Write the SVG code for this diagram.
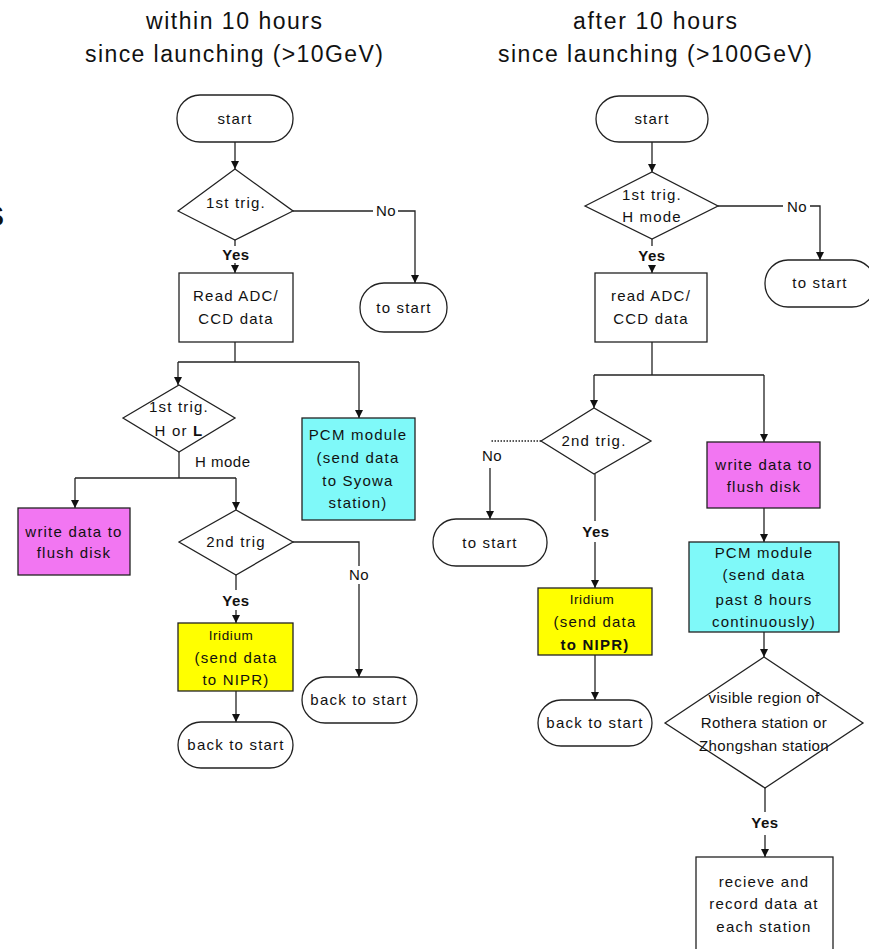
<svg xmlns="http://www.w3.org/2000/svg" width="869" height="949" viewBox="0 0 869 949">
  <style>
    text { font-family: "Liberation Sans", Arial, sans-serif; fill: #111; text-anchor: middle; }
    .title { font-size: 23px; }
    .t { font-size: 15px; letter-spacing: 1.2px; }
    .lbl { font-size: 15px; letter-spacing: 0.5px; }
    .small { font-size: 13.5px; letter-spacing: 0.6px; }
    .dtxt { font-size: 15px; letter-spacing: 0.4px; }
    .shape { stroke: #222; stroke-width: 1.3; fill: #fff; }
    .pink { fill: #f276f2; }
    .cyan { fill: #7ff9f9; }
    .yellow { fill: #ffff00; }
    .conn path { fill: none; stroke: #222; stroke-width: 1.3; }
    .conn .dot { stroke-dasharray: 1.5 1.5; }
  </style>
  <defs>
    <marker id="arrow" viewBox="0 0 8 8" refX="8" refY="4" markerWidth="8" markerHeight="8" markerUnits="userSpaceOnUse" orient="auto">
      <path d="M0,0 L8,4 L0,8 z" fill="#111"/>
    </marker>
  </defs>

  <rect width="869" height="949" fill="#fff"/>

  <!-- edge fragment -->
  <text x="-16" y="226" style="font-size:30px;font-weight:bold;text-anchor:start">S</text>

  <!-- column headings -->
  <g id="title-left">
    <text class="title" x="234" y="29" textLength="176" lengthAdjust="spacing">within 10 hours</text>
    <text class="title" x="234" y="62" textLength="298" lengthAdjust="spacing">since launching (&gt;10GeV)</text>
  </g>
  <g id="title-right">
    <text class="title" x="655" y="29" textLength="164" lengthAdjust="spacing">after 10 hours</text>
    <text class="title" x="655" y="62" textLength="314" lengthAdjust="spacing">since launching (&gt;100GeV)</text>
  </g>

  <!-- connectors -->
  <g id="connectors" class="conn">
    <!-- left chart -->
    <path d="M235,142 V169" marker-end="url(#arrow)"/>
    <path d="M293,211 H373"/>
    <path d="M398,211 H415 V283" marker-end="url(#arrow)"/>
    <path d="M235,240 V246"/>
    <path d="M235,263 V273" marker-end="url(#arrow)"/>
    <path d="M235,342 V362"/>
    <path d="M178,362 H359"/>
    <path d="M178,362 V385" marker-end="url(#arrow)"/>
    <path d="M359,362 V418" marker-end="url(#arrow)"/>
    <path d="M179,452 V478"/>
    <path d="M75,478 H236"/>
    <path d="M75,478 V508" marker-end="url(#arrow)"/>
    <path d="M236,478 V510" marker-end="url(#arrow)"/>
    <path d="M293,542 H359 V566"/>
    <path d="M359,584 V677" marker-end="url(#arrow)"/>
    <path d="M236,575 V590"/>
    <path d="M236,610 V623" marker-end="url(#arrow)"/>
    <path d="M236,691 V722" marker-end="url(#arrow)"/>

    <!-- right chart -->
    <path d="M652,142 V172" marker-end="url(#arrow)"/>
    <path d="M718,206 H783"/>
    <path d="M810,206 H820 V260" marker-end="url(#arrow)"/>
    <path d="M652,239 V246"/>
    <path d="M652,265 V273" marker-end="url(#arrow)"/>
    <path d="M652,342 V375"/>
    <path d="M594,375 H764"/>
    <path d="M594,375 V408" marker-end="url(#arrow)"/>
    <path d="M764,375 V442" marker-end="url(#arrow)"/>
    <path class="dot" d="M541,441 H490"/>
    <path d="M490,468 V519" marker-end="url(#arrow)"/>
    <path d="M595,474 V521"/>
    <path d="M595,542 V588" marker-end="url(#arrow)"/>
    <path d="M595,655 V700" marker-end="url(#arrow)"/>
    <path d="M764,508 V542" marker-end="url(#arrow)"/>
    <path d="M764,632 V657" marker-end="url(#arrow)"/>
    <path d="M765,788 V812"/>
    <path d="M765,835 V857" marker-end="url(#arrow)"/>
  </g>

  <!-- connector labels -->
  <g id="labels">
    <text class="lbl" x="386" y="216">No</text>
    <text class="lbl" x="236" y="260" style="font-weight:bold">Yes</text>
    <text class="lbl" x="195" y="467" style="text-anchor:start">H mode</text>
    <text class="lbl" x="359" y="580">No</text>
    <text class="lbl" x="236" y="606" style="font-weight:bold">Yes</text>
    <text class="lbl" x="797" y="212">No</text>
    <text class="lbl" x="652" y="261" style="font-weight:bold">Yes</text>
    <text class="lbl" x="492" y="461">No</text>
    <text class="lbl" x="596" y="537" style="font-weight:bold">Yes</text>
    <text class="lbl" x="765" y="828" style="font-weight:bold">Yes</text>
  </g>

  <!-- left chart nodes -->
  <g id="L-start">
    <rect class="shape" x="177" y="95" width="116" height="47" rx="23"/>
    <text class="t" x="235" y="124">start</text>
  </g>
  <g id="L-trig1">
    <polygon class="shape" points="178,211 235,169 293,211 235,240"/>
    <text class="t" x="236" y="208">1st trig.</text>
  </g>
  <g id="L-tostart">
    <rect class="shape" x="360" y="283" width="87" height="49" rx="24"/>
    <text class="t" x="404" y="313">to start</text>
  </g>
  <g id="L-read">
    <rect class="shape" x="179" y="273" width="114" height="69"/>
    <text class="t" x="236" y="301">Read ADC/</text>
    <text class="t" x="236" y="324">CCD data</text>
  </g>
  <g id="L-trigHL">
    <polygon class="shape" points="123,418 179,385 235,418 179,452"/>
    <text class="t" x="179" y="412">1st trig.</text>
    <text class="t" x="179" y="436">H or <tspan style="font-weight:bold">L</tspan></text>
  </g>
  <g id="L-pcm">
    <rect class="shape cyan" x="302" y="418" width="113" height="102"/>
    <text class="t" x="358" y="440">PCM module</text>
    <text class="t" x="358" y="463">(send data</text>
    <text class="t" x="358" y="486">to Syowa</text>
    <text class="t" x="358" y="508">station)</text>
  </g>
  <g id="L-flush">
    <rect class="shape pink" x="18" y="508" width="112" height="67"/>
    <text class="t" x="74" y="537">write data to</text>
    <text class="t" x="74" y="558">flush disk</text>
  </g>
  <g id="L-trig2">
    <polygon class="shape" points="179,542 236,510 293,542 236,575"/>
    <text class="t" x="236" y="547">2nd trig</text>
  </g>
  <g id="L-iridium">
    <rect class="shape yellow" x="178" y="623" width="115" height="68"/>
    <text class="small" x="231" y="640">Iridium</text>
    <text class="t" x="236" y="663">(send data</text>
    <text class="t" x="236" y="685">to NIPR)</text>
  </g>
  <g id="L-back1">
    <rect class="shape" x="302" y="677" width="115" height="46" rx="23"/>
    <text class="t" x="359" y="705">back to start</text>
  </g>
  <g id="L-back2">
    <rect class="shape" x="178" y="722" width="115" height="46" rx="23"/>
    <text class="t" x="236" y="750">back to start</text>
  </g>

  <!-- right chart nodes -->
  <g id="R-start">
    <rect class="shape" x="596" y="96" width="112" height="46" rx="23"/>
    <text class="t" x="652" y="124">start</text>
  </g>
  <g id="R-trig1">
    <polygon class="shape" points="585,206 652,172 718,206 652,239"/>
    <text class="t" x="652" y="200">1st trig.</text>
    <text class="t" x="652" y="222">H mode</text>
  </g>
  <g id="R-tostart">
    <rect class="shape" x="765" y="260" width="110" height="47" rx="23"/>
    <text class="t" x="820" y="288">to start</text>
  </g>
  <g id="R-read">
    <rect class="shape" x="595" y="273" width="112" height="69"/>
    <text class="t" x="651" y="301">read ADC/</text>
    <text class="t" x="651" y="324">CCD data</text>
  </g>
  <g id="R-trig2">
    <polygon class="shape" points="541,441 594,408 651,441 594,474"/>
    <text class="t" x="594" y="446">2nd trig.</text>
  </g>
  <g id="R-tostart2">
    <rect class="shape" x="433" y="519" width="114" height="47" rx="23"/>
    <text class="t" x="490" y="548">to start</text>
  </g>
  <g id="R-flush">
    <rect class="shape pink" x="707" y="442" width="113" height="66"/>
    <text class="t" x="764" y="470">write data to</text>
    <text class="t" x="764" y="492">flush disk</text>
  </g>
  <g id="R-pcm">
    <rect class="shape cyan" x="689" y="542" width="150" height="90"/>
    <text class="t" x="764" y="558">PCM module</text>
    <text class="t" x="764" y="580">(send data</text>
    <text class="t" x="764" y="605">past 8 hours</text>
    <text class="t" x="764" y="627">continuously)</text>
  </g>
  <g id="R-iridium">
    <rect class="shape yellow" x="538" y="588" width="114" height="67"/>
    <text class="small" x="592" y="604">Iridium</text>
    <text class="t" x="595" y="627">(send data</text>
    <text class="t" x="595" y="650" style="font-weight:bold">to NIPR)</text>
  </g>
  <g id="R-back">
    <rect class="shape" x="538" y="700" width="114" height="46" rx="23"/>
    <text class="t" x="595" y="728">back to start</text>
  </g>
  <g id="R-visible">
    <polygon class="shape" points="665,723 764,657 863,723 765,788"/>
    <text class="dtxt" x="764" y="703">visible region of</text>
    <text class="dtxt" x="764" y="728">Rothera station or</text>
    <text class="dtxt" x="764" y="751">Zhongshan station</text>
  </g>
  <g id="R-record">
    <rect class="shape" x="696" y="857" width="137" height="100"/>
    <text class="t" x="764" y="887">recieve and</text>
    <text class="t" x="764" y="909">record data at</text>
    <text class="t" x="764" y="932">each station</text>
  </g>
</svg>
